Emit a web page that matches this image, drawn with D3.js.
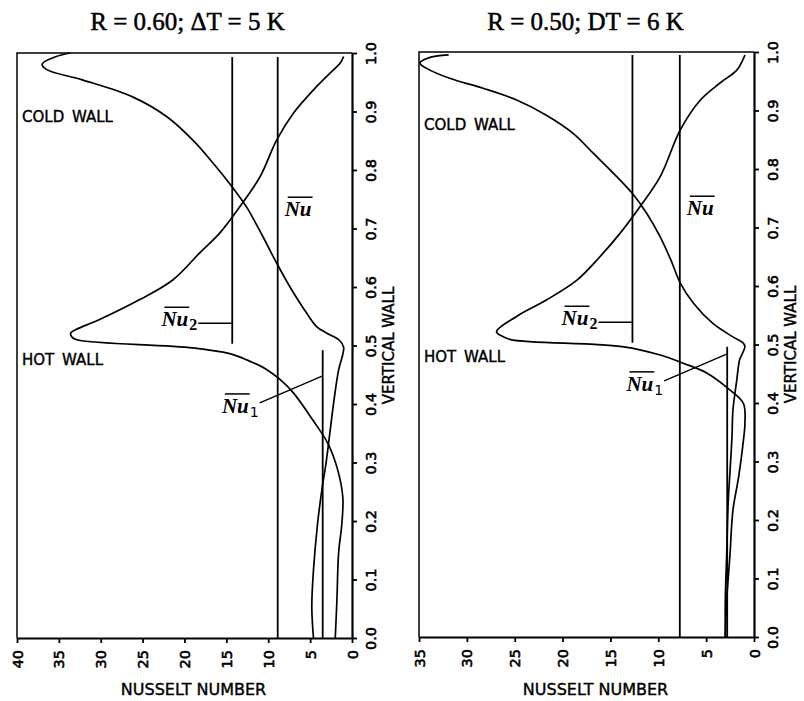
<!DOCTYPE html>
<html>
<head>
<meta charset="utf-8">
<script src="https://cdn.jsdelivr.net/npm/d3@7/dist/d3.min.js"></script>
<style>
body{margin:0;background:#fff;}
</style>
</head>
<body>
<div id="chart"></div>
<script>
// tick values
var yTicks = [0.0,0.1,0.2,0.3,0.4,0.5,0.6,0.7,0.8,0.9,1.0];
var nuTicksA = [40,35,30,25,20,15,10,5,0];
var nuTicksB = [35,30,25,20,15,10,5,0];

// panel titles
var titleA = "R = 0.60; \u0394T = 5 K";
var titleB = "R = 0.50; DT = 6 K";

// local Nusselt number along the wall, [height, Nu]
var coldWallA = [[1.0,33.6],[0.994,35.3],[0.981,37.0],[0.972,36.5],[0.954,32.2],[0.925,26.2],[0.891,22.1],
    [0.851,19.0],[0.812,16.6],[0.771,14.3],[0.737,12.6],[0.685,10.6],[0.641,9.0],[0.600,7.4],[0.555,5.4],
    [0.532,4.2],[0.521,3.0],[0.509,1.5],[0.497,1.0],[0.485,1.1],[0.458,1.6],[0.401,2.2],[0.344,2.7],
    [0.299,3.1],[0.253,3.6],[0.197,4.1],[0.116,4.6],[0.053,4.8],[0.0,4.6]];
var hotWallA = [[0.994,1.0],[0.983,1.4],[0.966,2.6],[0.937,4.6],[0.897,7.0],[0.851,9.0],[0.788,11.0],
    [0.737,13.4],[0.692,15.8],[0.658,18.2],[0.612,21.4],[0.578,25.4],[0.544,30.2],[0.527,33.0],[0.521,33.6],
    [0.514,33.4],[0.509,32.6],[0.496,19.0],[0.486,14.6],[0.475,12.5],[0.460,10.3],[0.442,8.6],[0.419,7.0],
    [0.373,4.7],[0.333,2.9],[0.287,1.7],[0.241,1.1],[0.197,1.2],[0.145,1.6],[0.065,1.8],[0.0,2.0]];
var coldWallB = [[0.995,31.9],[0.990,34.0],[0.981,34.9],[0.972,34.2],[0.955,31.8],[0.938,28.3],[0.918,24.8],
    [0.892,21.7],[0.861,18.9],[0.827,16.8],[0.793,14.7],[0.758,12.7],[0.724,11.2],[0.684,9.8],[0.645,8.7],
    [0.605,7.7],[0.570,6.3],[0.536,4.3],[0.513,2.2],[0.502,1.1],[0.496,0.95],[0.485,1.2],[0.474,1.5],
    [0.439,1.8],[0.388,2.2],[0.342,2.3],[0.285,2.5],[0.229,2.7],[0.143,2.85],[0.063,3.0],[0.0,3.0]];
var hotWallB = [[0.995,0.95],[0.989,1.1],[0.969,1.8],[0.947,3.55],[0.918,5.6],[0.867,7.7],[0.787,9.8],
    [0.736,11.9],[0.690,14.0],[0.650,16.1],[0.610,18.5],[0.576,21.7],[0.548,24.8],[0.522,26.9],[0.514,26.3],
    [0.508,25.3],[0.496,13.6],[0.482,9.8],[0.468,7.4],[0.451,4.9],[0.422,2.5],[0.399,1.1],[0.365,0.95],
    [0.337,1.1],[0.274,1.6],[0.217,2.2],[0.143,2.5],[0.063,2.85],[0.0,3.0]];

// average Nusselt numbers: Nu, Nu2 (upper cell), Nu1 (lower cell)
var meanNuA = [8.87, 14.3, 3.5];
var meanNuB = [7.75, 12.7, 2.8];
// vertical span of each average line
var meanTopA = [0.993, 0.993, 0.492];
var meanBotA = [0.0, 0.503, 0.0];
var meanTopB = [0.995, 0.995, 0.496];
var meanBotB = [0.0, 0.503, 0.0];

var W = 804, H = 701,
    SANS = "'DejaVu Sans', sans-serif",
    SERIF = "'Liberation Serif', 'Times New Roman', serif";

var svg = d3.select("#chart").append("svg")
    .attr("width",W)
    .attr("height",H);

// plotter-like text is a little heavier than the plain fonts
function heavy(sel, w){
    return sel.attr("stroke","#000").attr("stroke-width",w).attr("fill","#000");
}

function barLabel(g, px, py, sub, anchor){
    var t = g.append("text")
        .attr("x",px)
        .attr("y",py)
        .attr("text-anchor",anchor)
        .attr("font-family",SERIF);
    t.append("tspan")
        .attr("font-style","italic")
        .attr("font-weight","bold")
        .attr("font-size",21)
        .text("Nu");
    if(sub){
        t.append("tspan")
            .attr("dy",4)
            .attr("dx",1)
            .attr("font-family",sub === "2" ? SERIF : SANS)
            .attr("font-weight",sub === "2" ? "bold" : "normal")
            .attr("font-size",sub === "2" ? 16 : 14)
            .text(sub);
    }
    // overline over "Nu" only
    var n = t.node(),
        s = n.getStartPositionOfChar(0),
        e = n.getEndPositionOfChar(1);
    g.append("line")
        .attr("x1",s.x + 3)
        .attr("x2",e.x + 1)
        .attr("y1",py - 19)
        .attr("y2",py - 19)
        .attr("stroke","#000")
        .attr("stroke-width",1.5);
}

function drawPanel(cfg){
    var x = d3.scaleLinear().domain([cfg.nuMax,0]).range([cfg.x0,cfg.x1]),
        y = d3.scaleLinear().domain([0,1]).range([cfg.y0,cfg.y1]),
        g = svg.append("g");

    // title
    heavy(g.append("text")
        .attr("x",(cfg.x0 + cfg.x1)/2 + cfg.titleDx)
        .attr("y",30)
        .attr("text-anchor","middle")
        .attr("font-family",SERIF)
        .attr("font-size",25)
        .text(cfg.title), 0.5);

    // top and left frame
    g.append("path")
        .attr("d","M"+x(cfg.nuMax)+","+y(0)+"V"+y(1)+"H"+x(0))
        .attr("fill","none")
        .attr("stroke","#000")
        .attr("stroke-width",1.5);

    // bottom axis, reversed Nusselt number
    var xa = g.append("g")
        .attr("transform","translate(0,"+y(0)+")")
        .call(d3.axisBottom(x).tickValues(cfg.ticks).tickSize(5).tickSizeOuter(0).tickFormat(d3.format("d")));
    xa.attr("font-family",SANS).attr("font-size",14.5);
    xa.select(".domain").attr("stroke-width",2.2);
    xa.selectAll(".tick line").attr("stroke-width",1.8);
    heavy(xa.selectAll(".tick text"), 0.6)
        .attr("x",0).attr("y",0).attr("dy",null)
        .attr("text-anchor","end")
        .attr("transform","translate(5,12) rotate(-90)");

    // right axis, height on the wall
    var ya = g.append("g")
        .attr("transform","translate("+x(0)+",0)")
        .call(d3.axisRight(y).tickValues(yTicks).tickSize(5).tickSizeOuter(0).tickFormat(d3.format(".1f")));
    ya.attr("font-family",SANS).attr("font-size",14.5);
    ya.select(".domain").attr("stroke-width",2.2);
    ya.selectAll(".tick line").attr("stroke-width",1.8);
    heavy(ya.selectAll(".tick text"), 0.6)
        .attr("x",0).attr("y",0).attr("dy",null)
        .attr("text-anchor","middle")
        .attr("transform","translate(24,0) rotate(-90)");

    // axis titles
    heavy(g.append("text")
        .attr("x",(cfg.x0 + cfg.x1)/2 + 9)
        .attr("y",695)
        .attr("text-anchor","middle")
        .attr("font-family",SANS)
        .attr("font-size",16)
        .text("NUSSELT NUMBER"), 0.4);
    heavy(g.append("text")
        .attr("transform","translate("+(x(0) + 42)+","+y(0.5)+") rotate(-90)")
        .attr("text-anchor","middle")
        .attr("font-family",SANS)
        .attr("font-size",15)
        .text("VERTICAL WALL"), 0.4);

    // average lines
    g.selectAll("line.mean")
        .data(cfg.mean)
    .enter().append("line")
        .attr("class","mean")
        .attr("x1",function(d){ return x(d); })
        .attr("x2",function(d){ return x(d); })
        .attr("y1",function(d,i){ return y(cfg.top[i]); })
        .attr("y2",function(d,i){ return y(cfg.bot[i]); })
        .attr("stroke","#000")
        .attr("stroke-width",1.8);

    // wall curves
    var line = d3.line()
        .x(function(d){ return x(d[1]); })
        .y(function(d){ return y(d[0]); })
        .curve(d3.curveCatmullRom.alpha(0.5));
    g.selectAll("path.wall")
        .data([cfg.cold,cfg.hot])
    .enter().append("path")
        .attr("class","wall")
        .attr("d",line)
        .attr("fill","none")
        .attr("stroke","#000")
        .attr("stroke-width",1.7);

    // wall labels
    heavy(g.append("text")
        .attr("x",cfg.x0 + 5)
        .attr("y",y(cfg.coldY))
        .attr("font-family",SANS)
        .attr("font-size",15)
        .attr("word-spacing",3)
        .text("COLD WALL"), 0.4);
    heavy(g.append("text")
        .attr("x",cfg.x0 + 5)
        .attr("y",y(cfg.hotY))
        .attr("font-family",SANS)
        .attr("font-size",15)
        .attr("word-spacing",3)
        .text("HOT WALL"), 0.4);

    // Nu label
    barLabel(g, x(cfg.mean[0]) + 7, y(0.721), null, "start");

    // Nu2 label with horizontal leader
    var lx = x(cfg.mean[1]), ly = y(0.538);
    g.append("line")
        .attr("x1",lx - 34).attr("x2",lx)
        .attr("y1",ly).attr("y2",ly)
        .attr("stroke","#000").attr("stroke-width",1.4);
    barLabel(g, lx - 35, ly + 3, "2", "end");

    // Nu1 label with slanted leader
    var mx = x(cfg.mean[2]), my = y(cfg.nu1Y);
    g.append("line")
        .attr("x1",mx - 63).attr("x2",mx)
        .attr("y1",my + 27).attr("y2",my)
        .attr("stroke","#000").attr("stroke-width",1.4);
    barLabel(g, mx - 64, my + 37, "1", "end");
}

drawPanel({
    title: titleA, titleDx: 3,
    nuMax: 40, ticks: nuTicksA,
    x0: 17, x1: 352, y0: 638, y1: 53,
    cold: coldWallA, hot: hotWallA,
    mean: meanNuA, top: meanTopA, bot: meanBotA,
    coldY: 0.882, hotY: 0.467, nu1Y: 0.448
});
drawPanel({
    title: titleB, titleDx: -1,
    nuMax: 35, ticks: nuTicksB,
    x0: 419, x1: 754, y0: 637, y1: 52,
    cold: coldWallB, hot: hotWallB,
    mean: meanNuB, top: meanTopB, bot: meanBotB,
    coldY: 0.867, hotY: 0.470, nu1Y: 0.484
});
</script>
</body>
</html>
